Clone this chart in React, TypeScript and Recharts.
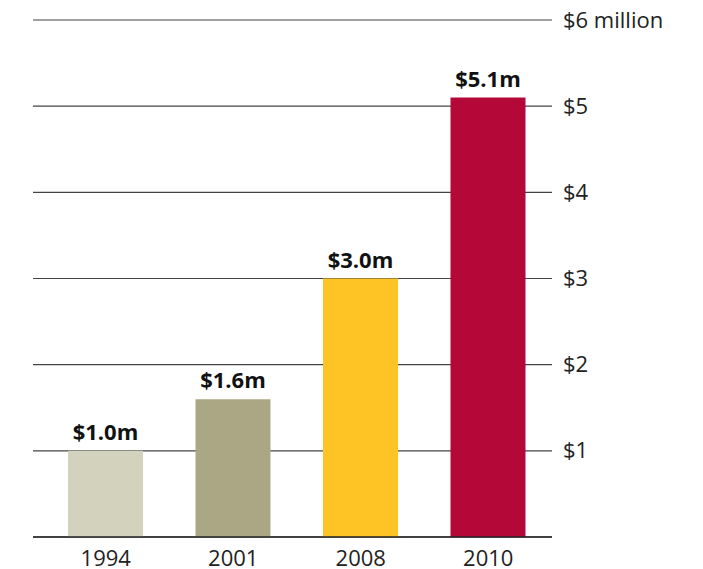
import { Bar, BarChart, CartesianGrid, Cell, LabelList, XAxis, YAxis } from "recharts";

const YEARS = ["1994", "2001", "2008", "2010"];
const FUNDING = [1.0, 1.6, 3.0, 5.1];
const VALUE_LABELS = ["$1.0m", "$1.6m", "$3.0m", "$5.1m"];
const BAR_COLORS = ["#d3d2bc", "#aba785", "#fec325", "#b30838"];
const Y_TICKS = [0, 1, 2, 3, 4, 5, 6];
const Y_TICK_LABELS = ["", "$1", "$2", "$3", "$4", "$5", "$6 million"];

const data = YEARS.map((year, i) => ({
  year,
  value: FUNDING[i],
  label: VALUE_LABELS[i],
}));

const FONT = "'Open Sans', 'Noto Sans', sans-serif";

function YearTick({ x, y, payload }: any) {
  return (
    <text x={x} y={y + 21} textAnchor="middle" fill="#222" fontSize={22} fontFamily={FONT}>
      {payload.value}
    </text>
  );
}

function MoneyTick({ x, y, payload }: any) {
  const idx = Y_TICKS.indexOf(payload.value);
  return (
    <text x={x} y={y + 7.5} textAnchor="start" fill="#222" fontSize={22} fontFamily={FONT}>
      {Y_TICK_LABELS[idx]}
    </text>
  );
}

export default function App() {
  return (
    <div style={{ width: 695, height: 561 }}>
      <BarChart
        width={695}
        height={561}
        data={data}
        margin={{ top: 12, right: 11, bottom: 2, left: 25 }}
      >
        <CartesianGrid vertical={false} stroke="#444" strokeWidth={1.2} />
        <XAxis
          dataKey="year"
          height={30}
          padding={{ left: 9, right: 0 }}
          axisLine={{ stroke: "#222", strokeWidth: 1.5 }}
          tickLine={false}
          tick={<YearTick />}
          interval={0}
        />
        <YAxis
          orientation="right"
          width={140}
          domain={[0, 6]}
          ticks={Y_TICKS}
          axisLine={false}
          tickLine={false}
          tickSize={0}
          tickMargin={11}
          tick={<MoneyTick />}
          interval={0}
        />
        <Bar dataKey="value" barSize={75} isAnimationActive={false}>
          {data.map((d, i) => (
            <Cell key={d.year} fill={BAR_COLORS[i]} />
          ))}
          <LabelList
            dataKey="label"
            position="top"
            offset={11}
            fill="#111"
            fontSize={22}
            fontWeight={700}
            fontFamily={FONT}
          />
        </Bar>
      </BarChart>
    </div>
  );
}
